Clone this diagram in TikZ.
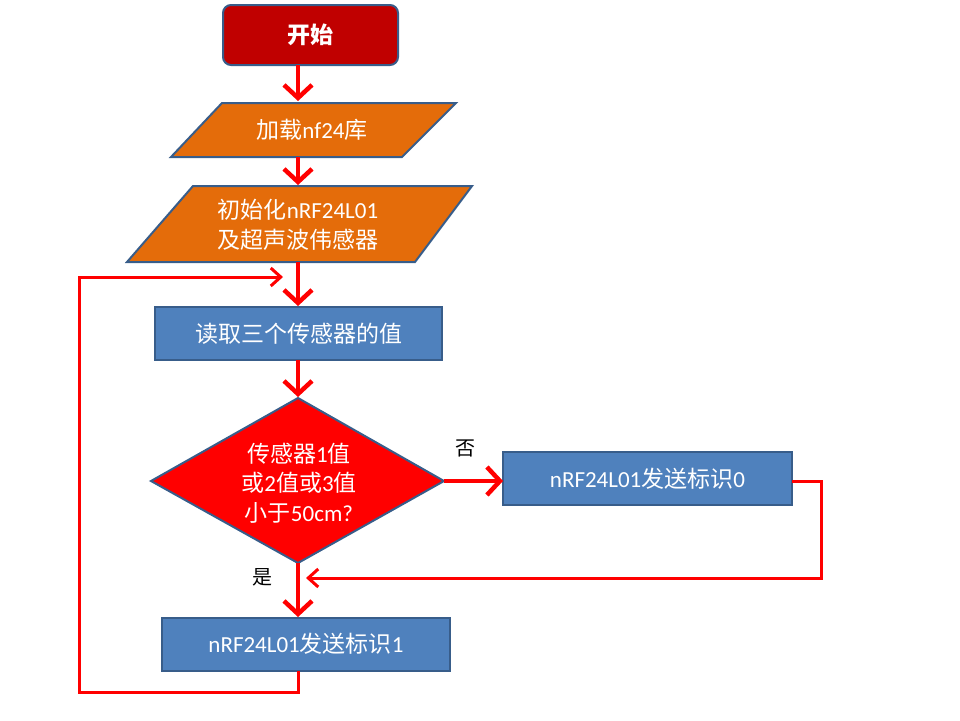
\documentclass[tikz,border=0pt]{standalone}
\usepackage{fontspec}
\setmainfont{Carlito}
\newfontfamily\cjk{Noto Sans CJK SC}
\usetikzlibrary{arrows.meta}
\definecolor{boxblue}{HTML}{4F81BD}
\definecolor{edgeblue}{HTML}{385D8A}
\definecolor{boxorange}{HTML}{E46C0A}
\definecolor{startred}{HTML}{C00000}
\definecolor{linered}{HTML}{FF0000}
\newcommand{\zh}[1]{{\cjk #1}}
\tikzset{
  shapeline/.style={draw=edgeblue,line width=2pt},
  txt/.style={text=white,font=\fontsize{23}{29.5}\selectfont,align=center,inner sep=0pt},
  procbox/.style={shapeline,fill=boxblue,rectangle,minimum width=#1,minimum height=53pt,txt},
  mainarrow/.style={draw=linered,line width=4.5pt,-{Straight Barb[length=13pt,width=28pt]}},
  thinarrow/.style={draw=linered,line width=3pt,-{Straight Barb[length=10pt,width=18pt]}},
  lbl/.style={text=black,font=\cjk\fontsize{20}{24}\selectfont,inner sep=0pt}
}
\begin{document}
\begin{tikzpicture}[x=1pt,y=-1pt]
\useasboundingbox (0,0) rectangle (960,720);
% start
\node[shapeline,fill=startred,rounded corners=8pt,minimum width=175pt,minimum height=60pt,txt,font=\cjk\fontsize{23}{29}\selectfont\bfseries] (start) at (310.5,35) {开始};
% parallelogram 1
\draw[shapeline,fill=boxorange] (222,103) -- (456,103) -- (402,157) -- (171,157) -- cycle;
\node[txt] (lib) at (312,130) {\zh{加载}nf24\zh{库}};
% parallelogram 2
\draw[shapeline,fill=boxorange] (193,186) -- (472,186) -- (415,262) -- (127,262) -- cycle;
\node[txt] (init) at (298,225) {\zh{初始化}nRF24L01\\\zh{及超声波伟感器}};
% read
\node[procbox=287pt] (read) at (298.5,333.5) {\zh{读取三个传感器的值}};
% diamond
\draw[shapeline,fill=linered] (298,398) -- (444,481) -- (298,563) -- (151,481) -- cycle;
\node[txt] (cond) at (299,483) {\zh{传感器}1\zh{值}\\\zh{或}2\zh{值或}3\zh{值}\\\zh{小于}50cm?};
% send 0 / send 1
\node[procbox=289pt] (send0) at (647.5,478.5) {nRF24L01\zh{发送标识}0};
\node[procbox=288pt] (send1) at (306,644) {nRF24L01\zh{发送标识}1};
% coordinates
\coordinate (a1s) at (298,65);  \coordinate (a1e) at (298,101);
\coordinate (a2s) at (298,157); \coordinate (a2e) at (298,185);
\coordinate (a3s) at (298,262); \coordinate (a3e) at (298,306);
\coordinate (a4s) at (298,360); \coordinate (a4e) at (298,397);
\coordinate (dtop) at (298,563); \coordinate (s1top) at (298,617);
\coordinate (dright) at (444,481); \coordinate (s0left) at (503,481);
\coordinate (s0right) at (792,481);
\coordinate (r1) at (821,481); \coordinate (r2) at (821,578); \coordinate (rin) at (306,578);
\coordinate (s1bot) at (298,671);
\coordinate (l1) at (298,692); \coordinate (l2) at (79,692); \coordinate (l3) at (79,277);
\coordinate (lin) at (283,277);
% arrows
\draw[mainarrow] (a1s) -- (a1e);
\draw[mainarrow] (a2s) -- (a2e);
\draw[mainarrow] (a3s) -- (a3e);
\draw[mainarrow] (a4s) -- (a4e);
\draw[mainarrow] (dtop) -- (s1top);
\draw[mainarrow] (dright) -- (s0left);
\draw[thinarrow] (s0right) -- (r1) -- (r2) -- (rin);
\draw[thinarrow] (s1bot) -- (l1) -- (l2) -- (l3) -- (lin);
% labels
\node[lbl] (no) at (465,448) {否};
\node[lbl] (yes) at (262,577) {是};
\end{tikzpicture}
\end{document}
